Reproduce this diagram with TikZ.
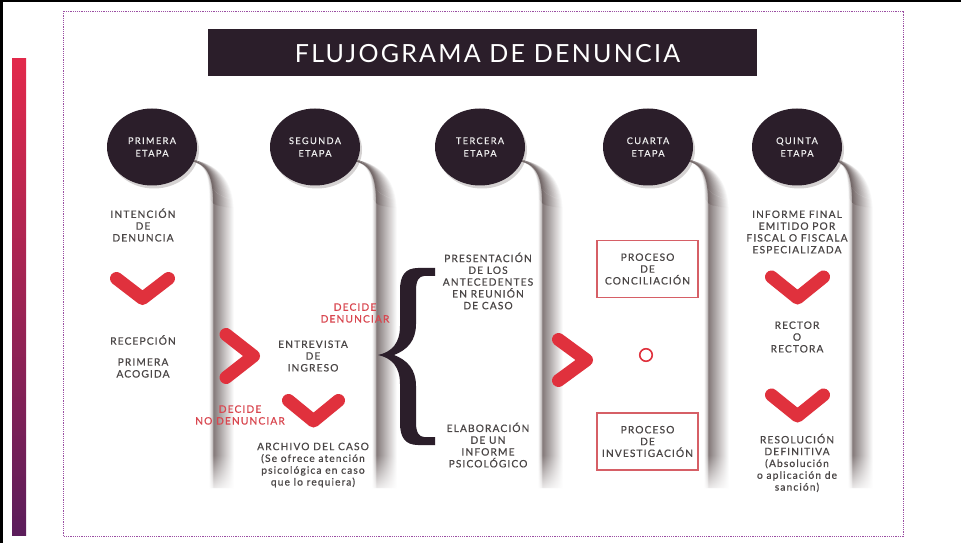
\documentclass[tikz,border=0pt]{standalone}
\usepackage{fontspec}
\setmainfont{Lato}
\newfontfamily\titlefam[LetterSpace=9]{Lato}
\newfontfamily\bodyfam[LetterSpace=11,FakeBold=0.6]{Lato}
\newfontfamily\circfam[LetterSpace=15,FakeBold=0.5]{Lato}
\usetikzlibrary{shapes.geometric,shadows,fadings}
\definecolor{ink}{HTML}{2B1E2A}
\definecolor{chev}{HTML}{E0313D}
\definecolor{redtxt}{HTML}{D9464F}
\definecolor{txt}{HTML}{4A4646}
\definecolor{shad}{HTML}{756A6A}
\definecolor{framec}{HTML}{9B4FA3}
\definecolor{bartop}{HTML}{E2294B}
\definecolor{barbot}{HTML}{5B1D5B}
\definecolor{boxc}{HTML}{D65F66}
% column edge shadow: strokes fanning out from the circle, darker at the edge
\newcommand\colshadow[2]{%
  \foreach \d in {20,19,...,1,-4,-3,-2,-1,0}{%
    \ifnum\d<0 \pgfmathtruncatemacro\pct{65+15*\d}\else\pgfmathtruncatemacro\pct{100-5*\d}\fi
    \draw[color=shad!\pct!white, line width=1.3bp]
      (#1+38,160) .. controls (#2-3+0.3*\d,164) and (#2+\d,180) .. (#2+\d,212) -- (#2+\d,488);}%
  \fill[white, path fading=north] (#2-6,455) rectangle (#2+23,494);
}
\tikzset{
  stage/.style={ellipse, fill=ink, minimum width=90bp, minimum height=77bp, inner sep=0pt,
    text=white!93!black, align=center, font=\fontsize{9.2bp}{12.6bp}\circfam,
    drop shadow={shadow xshift=2bp, shadow yshift=-3bp, opacity=0.3, fill=shad}},
  body/.style={align=center, text=txt, inner sep=0pt, font=\fontsize{10.2bp}{11.8bp}\bodyfam},
  redlabel/.style={align=center, text=redtxt, inner sep=0pt, font=\fontsize{10.2bp}{11.8bp}\bodyfam},
  procbox/.style={draw=boxc, line width=1.1bp, minimum width=101bp, minimum height=57bp, inner sep=0pt,
    align=center, text=txt, font=\fontsize{10.2bp}{11.8bp}\bodyfam},
  chevron/.style={draw=chev, line width=13bp, line cap=round, line join=round},
}
\begin{document}
\begin{tikzpicture}[x=1bp, y=-1bp]
\useasboundingbox (0,0) rectangle (961,543);
\fill[white] (0,0) rectangle (961,543);
% outer black frame (top and left)
\fill[black] (0,0) rectangle (961,2.5);
\fill[black] (0,0) rectangle (2.5,543);
% gradient bar
\shade[top color=bartop, bottom color=barbot] (12,59) rectangle (26,535);
% dotted frame
\draw[framec, line width=0.8bp, dash pattern=on 1.2bp off 1bp] (63,11) rectangle (903,536);
% column shadows
\colshadow{152}{214}
\colshadow{315}{377}
\colshadow{480}{543}
\colshadow{648}{709}
\colshadow{797}{853}
% title
\fill[ink] (208,29) rectangle (757,76);
\node[anchor=base, text=white, inner sep=0pt, font=\fontsize{25bp}{30bp}\titlefam] (title) at (487.5,63) {FLUJOGRAMA DE DENUNCIA};
% stage circles
\node[stage] (s1) at (152,147) {PRIMERA\\ETAPA};
\node[stage] (s2) at (315,147) {SEGUNDA\\ETAPA};
\node[stage] (s3) at (480,147) {TERCERA\\ETAPA};
\node[stage] (s4) at (648,147) {CUARTA\\ETAPA};
\node[stage] (s5) at (797,147) {QUINTA\\ETAPA};
% column 1
\node[body] (intencion) at (143,225) {INTENCIÓN\\DE\\DENUNCIA};
\draw[chevron] (116.5,278.5) -- (142.5,298.5) -- (168.5,278.5);
\node[body] (recepcion) at (143,340) {RECEPCIÓN};
\node[body] (acogida) at (143,368) {PRIMERA\\ACOGIDA};
% column 2
\draw[chevron] (226,334.5) -- (253.5,356) -- (226,377.5);
\node[body] (entrevista) at (313,356) {ENTREVISTA\\DE\\INGRESO};
\node[redlabel] (dec1) at (355,313) {DECIDE\\DENUNCIAR};
\draw[chevron] (288.5,400.5) -- (313.5,421) -- (338.5,400.5);
\node[redlabel] (dec2) at (240,415) {DECIDE\\NO DENUNCIAR};
\node[body] (archivo) at (313,465) {ARCHIVO DEL CASO\\(Se ofrece atención\\psicológica en caso\\que lo requiera)};
% brace
\fill[ink] (435,268) -- (418,268) .. controls (405,268) and (400,276) .. (400,290) -- (400,326)
  .. controls (400,343) and (392,352) .. (378,355) .. controls (392,358) and (400,367) .. (400,384)
  -- (400,423) .. controls (400,437) and (405,445) .. (418,445) -- (435,445) -- (435,437) -- (424,437)
  .. controls (419,437) and (416,432) .. (416,423) -- (416,386) .. controls (416,369) and (407,360) .. (394,355)
  .. controls (407,350) and (416,341) .. (416,324) -- (416,290) .. controls (416,281) and (419,276) .. (424,276)
  -- (435,276) -- cycle;
% column 3
\node[body] (presentacion) at (488,281) {PRESENTACIÓN\\DE LOS\\ANTECEDENTES\\EN REUNIÓN\\DE CASO};
\node[body] (elaboracion) at (488,445) {ELABORACIÓN\\DE UN\\INFORME\\PSICOLÓGICO};
% column 4
\draw[chevron] (558.5,339.5) -- (586.5,360) -- (558.5,380.5);
\node[procbox] (conciliacion) at (647.5,269) {PROCESO\\DE\\CONCILIACIÓN};
\node[circle, draw=chev, line width=1.6bp, minimum size=12.5bp, inner sep=0pt] (o) at (646,355) {};
\node[procbox] (investigacion) at (647.5,441.5) {PROCESO\\DE\\INVESTIGACIÓN};
% column 5
\node[body] (informe) at (797,232) {INFORME FINAL\\EMITIDO POR\\FISCAL O FISCALA\\ESPECIALIZADA};
\draw[chevron] (771.5,277) -- (797.5,298) -- (823.5,277);
\node[body] (rector) at (797,337) {RECTOR\\O\\RECTORA};
\draw[chevron] (771.5,395) -- (797.5,416) -- (823.5,395);
\node[body] (resolucion) at (797,463) {RESOLUCIÓN\\DEFINITIVA\\(Absolución\\o aplicación de\\sanción)};
\end{tikzpicture}
\end{document}
